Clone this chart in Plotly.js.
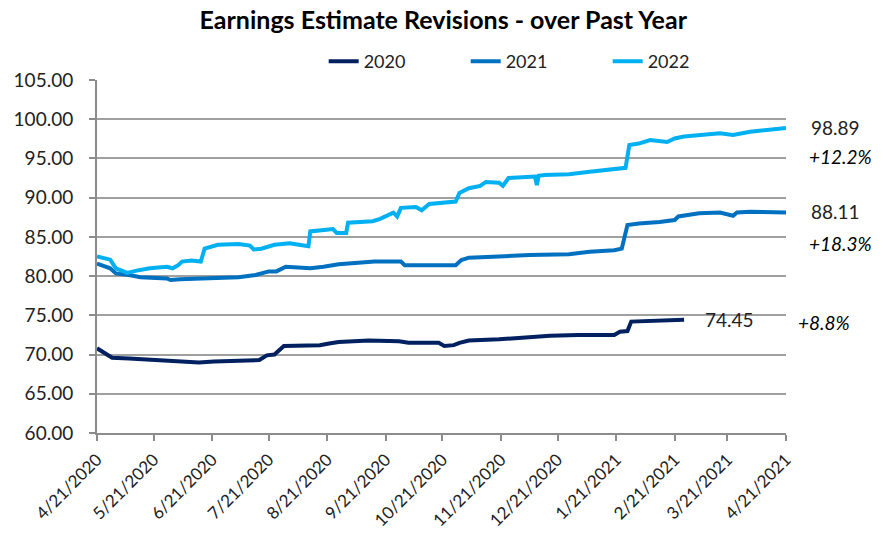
<!DOCTYPE html>
<html>
<head>
<meta charset="utf-8">
<script src="https://cdn.plot.ly/plotly-3.0.1.min.js"></script>
<style>html,body{margin:0;padding:0;background:#fff;}#chart{width:883px;height:533px;}</style>
</head>
<body>
<div id="chart"></div>
<script>
const dates2022 = ["2020-04-21","2020-04-28","2020-05-01","2020-05-07","2020-05-12","2020-05-19","2020-05-28","2020-05-31","2020-06-03","2020-06-05","2020-06-10","2020-06-15","2020-06-17","2020-06-24","2020-07-05","2020-07-11","2020-07-13","2020-07-17","2020-07-24","2020-08-01","2020-08-06","2020-08-11","2020-08-12","2020-08-24","2020-08-26","2020-08-31","2020-09-01","2020-09-14","2020-09-18","2020-09-23","2020-09-25","2020-09-27","2020-09-29","2020-10-07","2020-10-10","2020-10-14","2020-10-28","2020-10-30","2020-11-04","2020-11-10","2020-11-13","2020-11-20","2020-11-22","2020-11-25","2020-12-06","2020-12-09","2020-12-10","2020-12-11","2020-12-14","2020-12-27","2021-01-07","2021-01-20","2021-01-26","2021-01-28","2021-02-02","2021-02-08","2021-02-17","2021-02-21","2021-02-26","2021-03-17","2021-03-24","2021-04-02","2021-04-12","2021-04-21"];
const values2022 = [82.5,82.1,81.0,80.4,80.7,81.0,81.2,81.0,81.4,81.85,82.0,81.85,83.5,84.0,84.1,83.9,83.4,83.5,84.0,84.2,84.0,83.8,85.7,86.0,85.5,85.5,86.8,87.0,87.3,87.9,88.1,87.6,88.7,88.8,88.4,89.2,89.5,90.6,91.2,91.5,92.0,91.9,91.5,92.5,92.7,92.7,91.6,92.8,92.9,93.0,93.3,93.7,93.8,96.7,96.9,97.35,97.1,97.55,97.8,98.2,98.0,98.4,98.7,98.89];

const dates2021 = ["2020-04-21","2020-04-28","2020-05-01","2020-05-08","2020-05-14","2020-05-28","2020-05-30","2020-06-04","2020-07-05","2020-07-14","2020-07-21","2020-07-25","2020-07-30","2020-08-12","2020-08-19","2020-08-27","2020-09-15","2020-09-29","2020-10-01","2020-10-28","2020-10-31","2020-11-04","2020-11-20","2020-12-06","2020-12-27","2021-01-07","2021-01-20","2021-01-24","2021-01-27","2021-02-02","2021-02-13","2021-02-21","2021-02-23","2021-03-06","2021-03-17","2021-03-24","2021-03-26","2021-04-02","2021-04-21"];
const values2021 = [81.6,81.0,80.35,80.15,79.85,79.7,79.5,79.6,79.85,80.15,80.6,80.6,81.2,81.0,81.2,81.5,81.85,81.85,81.4,81.4,82.05,82.35,82.5,82.7,82.8,83.1,83.3,83.5,86.5,86.7,86.9,87.15,87.6,88.0,88.1,87.7,88.1,88.2,88.11];

const dates2020 = ["2020-04-21","2020-04-25","2020-04-29","2020-05-08","2020-05-24","2020-06-04","2020-06-14","2020-06-22","2020-06-30","2020-07-16","2020-07-20","2020-07-24","2020-07-29","2020-08-06","2020-08-17","2020-08-22","2020-08-27","2020-09-12","2020-09-28","2020-10-03","2020-10-16","2020-10-19","2020-10-22","2020-10-27","2020-10-30","2020-11-04","2020-11-20","2020-12-06","2020-12-17","2021-01-01","2021-01-20","2021-01-23","2021-01-27","2021-01-29","2021-02-08","2021-02-18","2021-02-26"];
const values2020 = [70.8,70.2,69.6,69.5,69.3,69.2,69.0,69.1,69.2,69.3,69.9,70.0,71.1,71.1,71.2,71.4,71.6,71.8,71.7,71.5,71.6,71.5,71.1,71.2,71.5,71.8,71.95,72.2,72.4,72.5,72.5,72.9,73.0,74.2,74.3,74.4,74.45];

const tickDates = ["2020-04-21","2020-05-21","2020-06-21","2020-07-21","2020-08-21","2020-09-21","2020-10-21","2020-11-21","2020-12-21","2021-01-21","2021-02-21","2021-03-21","2021-04-21"];
const tickLabels = ["4/21/2020","5/21/2020","6/21/2020","7/21/2020","8/21/2020","9/21/2020","10/21/2020","11/21/2020","12/21/2020","1/21/2021","2/21/2021","3/21/2021","4/21/2021"];
const yTicks = [60,65,70,75,80,85,90,95,100,105];

const seriesNames = ["2020","2021","2022"];
const endLabels = ["74.45","88.11","98.89"];
const changeLabels = ["+8.8%","+18.3%","+12.2%"];

const FONT = "Lato, 'Open Sans', sans-serif";
const colors = ["#002060","#0070C0","#00B0F0"];

const traces = [
  {x: dates2020, y: values2020, name: seriesNames[0]},
  {x: dates2021, y: values2021, name: seriesNames[1]},
  {x: dates2022, y: values2022, name: seriesNames[2]}
].map((t,i)=>Object.assign(t,{type:"scatter",mode:"lines",line:{color:colors[i],width:4,shape:"linear"},hoverinfo:"skip"}));

const layout = {
  width: 883, height: 533,
  margin: {l: 97, r: 97, t: 80, b: 100},
  paper_bgcolor: "#fff", plot_bgcolor: "#fff",
  font: {family: FONT, size: 18, color: "#222"},
  title: {text: "<b>Earnings Estimate Revisions - over Past Year</b>", x: 0.502, xanchor: "center", y: 0.962, yanchor: "middle", font: {family: FONT, size: 25, color: "#000"}},
  showlegend: true,
  legend: {orientation: "h", x: 0.329, xanchor: "left", y: 1.052, yanchor: "middle", entrywidth: 97, entrywidthmode: "pixels", font: {family: FONT, size: 18, color: "#222"}, bgcolor: "rgba(0,0,0,0)", traceorder: "normal"},
  xaxis: {
    type: "date",
    range: ["2020-04-21", "2021-04-21"],
    tickmode: "array", tickvals: tickDates, ticktext: tickLabels,
    tickangle: -45,
    ticks: "outside", ticklen: 6, tickwidth: 2, tickcolor: "#8c8c8c",
    ticklabelstandoff: 2,
    showline: true, linecolor: "#8c8c8c", linewidth: 2,
    showgrid: false, zeroline: false,
    tickfont: {family: FONT, size: 17, color: "#222"}
  },
  yaxis: {
    range: [60, 105],
    tickmode: "array", tickvals: yTicks, tickformat: ".2f",
    ticks: "outside", ticklen: 6, tickwidth: 2, tickcolor: "#8c8c8c",
    ticklabelstandoff: 12,
    showline: true, linecolor: "#8c8c8c", linewidth: 2,
    showgrid: true, gridcolor: "#a0a0a0", gridwidth: 2,
    zeroline: false,
    tickfont: {family: FONT, size: 19, color: "#222"}
  },
  annotations: [
    {xref: "paper", yref: "y", x: 1.034, y: 99.0, xanchor: "left", yanchor: "middle", text: endLabels[2], showarrow: false, font: {family: FONT, size: 19, color: "#222"}},
    {xref: "paper", yref: "y", x: 1.03, y: 95.2, xanchor: "left", yanchor: "middle", text: "<i>" + changeLabels[2] + "</i>", showarrow: false, font: {family: FONT, size: 19, color: "#000"}},
    {xref: "paper", yref: "y", x: 1.034, y: 88.2, xanchor: "left", yanchor: "middle", text: endLabels[1], showarrow: false, font: {family: FONT, size: 19, color: "#222"}},
    {xref: "paper", yref: "y", x: 1.03, y: 84.2, xanchor: "left", yanchor: "middle", text: "<i>" + changeLabels[1] + "</i>", showarrow: false, font: {family: FONT, size: 19, color: "#000"}},
    {xref: "paper", yref: "y", x: 0.879, y: 74.45, xanchor: "left", yanchor: "middle", text: endLabels[0], showarrow: false, font: {family: FONT, size: 19, color: "#222"}},
    {xref: "paper", yref: "y", x: 1.015, y: 74.1, xanchor: "left", yanchor: "middle", text: "<i>" + changeLabels[0] + "</i>", showarrow: false, font: {family: FONT, size: 19, color: "#000"}}
  ]
};

Plotly.newPlot("chart", traces, layout, {displayModeBar: false, staticPlot: true});
</script>
</body>
</html>
